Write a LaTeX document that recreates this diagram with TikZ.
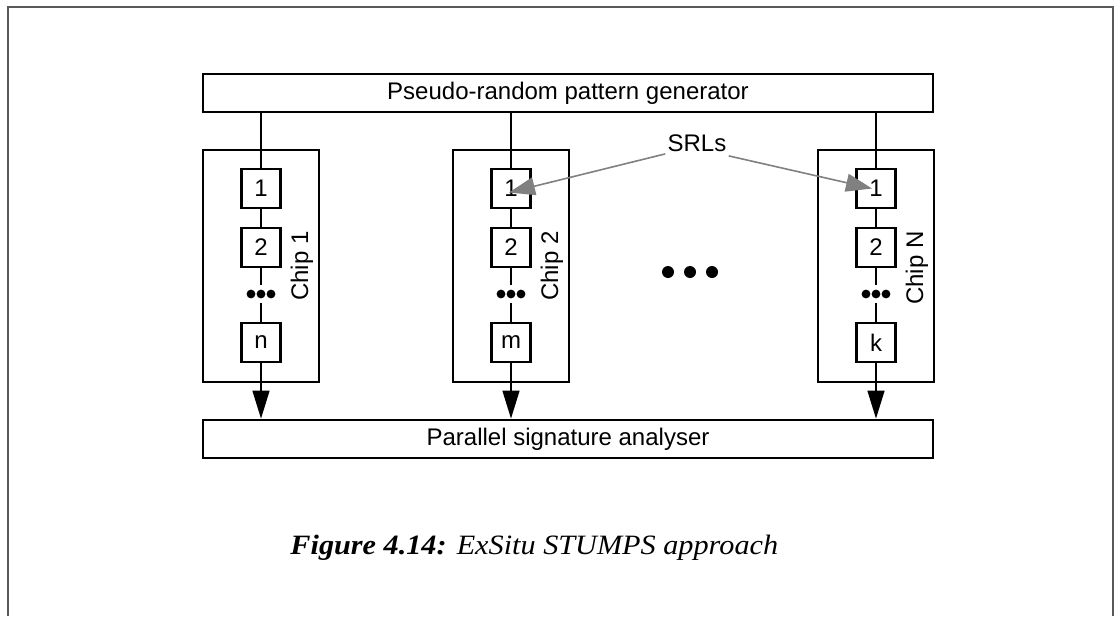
\documentclass[tikz,border=0pt]{standalone}
\usepackage{fontspec}
\setmainfont{Liberation Sans}
\newfontfamily\capfont{Liberation Serif}
\usetikzlibrary{arrows.meta}

\tikzset{
  bigbox/.style={draw, line width=1.4pt, minimum width=365pt, minimum height=19pt, inner sep=0pt, font=\fontsize{12}{14}\selectfont},
  chipbox/.style={draw, line width=1.4pt, minimum width=58pt, minimum height=116pt, inner sep=0pt},
  srlbox/.style={draw, line width=1.4pt, fill=white, minimum size=19.5pt, inner sep=0pt, font=\fontsize{12}{14}\selectfont},
  chiplabel/.style={rotate=90, inner sep=0pt, font=\fontsize{12}{14}\selectfont},
  dotgap/.style={minimum width=15pt, minimum height=9pt, inner sep=0pt},
  wire/.style={line width=0.7pt},
  scanout/.style={wire, -{Triangle[length=14pt, width=8.5pt]}},
  pointer/.style={draw=gray, line width=0.8pt, -{Triangle[length=13pt, width=9pt, fill=gray]}},
}

\begin{document}
\begin{tikzpicture}[x=0.5pt, y=-0.5pt] % coordenadas en pixeles
  \useasboundingbox (0,0) rectangle (1114,616);

  % Marco exterior
  \draw[gray!70!black, line width=1pt] (8,616) -- (8,7) -- (1113,7) -- (1113,616);

  % Generador y analizador
  \node[bigbox] (gen) at (568,93) {Pseudo-random pattern generator};
  \node[bigbox] (psa) at (568,439) {Parallel signature analyser};

  % Chip 1
  \node[chipbox] (chip1) at (261,266) {};
  \node[chiplabel] (lab1) at (302,266) {Chip 1};
  \node[srlbox] (s11) at (261,188.5) {1};
  \node[srlbox] (s12) at (261,247.5) {2};
  \node[dotgap] (d1) at (261,294) {};
  \node[srlbox] (s1n) at (261,342.5) {n};
  \fill ([xshift=-5pt]d1.center) circle (2.2pt) (d1.center) circle (2.2pt) ([xshift=5pt]d1.center) circle (2.2pt);
  \draw[wire] (gen.south -| s11) -- (s11) (s11) -- (s12) (s12) -- (d1) (d1) -- (s1n);
  \draw[scanout] (s1n) -- (s1n |- psa.north);

  % Chip 2
  \node[chipbox] (chip2) at (511,266) {};
  \node[chiplabel] (lab2) at (552,266) {Chip 2};
  \node[srlbox] (s21) at (511,188.5) {1};
  \node[srlbox] (s22) at (511,247.5) {2};
  \node[dotgap] (d2) at (511,294) {};
  \node[srlbox] (s2m) at (511,342.5) {m};
  \fill ([xshift=-5pt]d2.center) circle (2.2pt) (d2.center) circle (2.2pt) ([xshift=5pt]d2.center) circle (2.2pt);
  \draw[wire] (gen.south -| s21) -- (s21) (s21) -- (s22) (s22) -- (d2) (d2) -- (s2m);
  \draw[scanout] (s2m) -- (s2m |- psa.north);

  % Chip N
  \node[chipbox] (chipN) at (876,266) {};
  \node[chiplabel] (labN) at (917,268) {Chip N};
  \node[srlbox] (sN1) at (876,188.5) {1};
  \node[srlbox] (sN2) at (876,247.5) {2};
  \node[dotgap] (dN) at (876,294) {};
  \node[srlbox] (sNk) at (876,342.5) {k};
  \fill ([xshift=-5pt]dN.center) circle (2.2pt) (dN.center) circle (2.2pt) ([xshift=5pt]dN.center) circle (2.2pt);
  \draw[wire] (gen.south -| sN1) -- (sN1) (sN1) -- (sN2) (sN2) -- (dN) (dN) -- (sNk);
  \draw[scanout] (sNk) -- (sNk |- psa.north);

  % Puntos entre chips
  \node[dotgap] (gap) at (690,272) {};
  \fill ([xshift=-11pt]gap.center) circle (3pt) (gap.center) circle (3pt) ([xshift=11pt]gap.center) circle (3pt);

  % Etiqueta SRLs
  \node[inner sep=1pt, font=\fontsize{12}{14}\selectfont] (srl) at (697,143) {SRLs};
  \draw[pointer] (srl.south west) -- ([xshift=-1pt, yshift=-2pt]s21.center);
  \draw[pointer] ([yshift=-1pt]srl.south east) -- ([xshift=-2pt]sN1.center);

  % Pie de figura
  \node[anchor=base west, inner sep=0pt, xscale=1.08, font=\capfont\itshape\fontsize{14}{16}\selectfont] (cap) at (290,554) {\textbf{Figure 4.14:} ExSitu STUMPS approach};
\end{tikzpicture}
\end{document}
